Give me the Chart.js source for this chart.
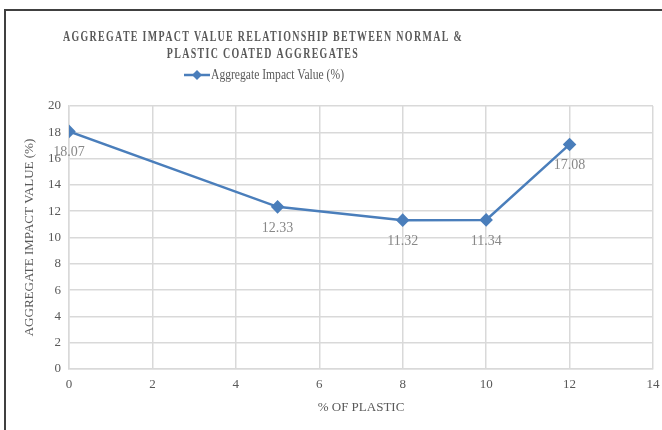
<!DOCTYPE html>
<html>
<head>
<meta charset="utf-8">
<script src="https://cdn.jsdelivr.net/npm/chart.js@4.4.1/dist/chart.umd.min.js"></script>
<style>
  html, body { margin: 0; padding: 0; background: #fff; }
  #wrap { width: 662px; height: 430px; position: relative; }
</style>
</head>
<body>
<div id="wrap"><canvas id="chart"></canvas></div>
<script>
const plasticPct = [0, 5, 8, 10, 12];
const impactValues = [18.07, 12.33, 11.32, 11.34, 17.08];
const chartTitle = ['AGGREGATE IMPACT VALUE RELATIONSHIP BETWEEN NORMAL &', 'PLASTIC COATED AGGREGATES'];
const seriesName = 'Aggregate Impact Value (%)';
const xTitle = '% OF PLASTIC';
const yTitle = 'AGGREGATE IMPACT VALUE (%)';

const lineColor = '#4a7ebb';
const textColor = '#595959';
const serif = "'Liberation Serif', 'DejaVu Serif', serif";

// squeeze text horizontally, the source font is narrower than anything installed
function narrowText(ctx, text, x, y, sx) {
    ctx.save();
    ctx.translate(x, y);
    ctx.scale(sx, 1);
    ctx.fillText(text, 0, 0);
    ctx.restore();
}

const framePlugin = {
    id: 'frame',
    beforeDraw(chart) {
        const ctx = chart.ctx;
        ctx.save();
        ctx.fillStyle = '#fff';
        ctx.fillRect(0, 0, chart.width, chart.height);
        ctx.strokeStyle = '#404040';
        ctx.lineWidth = 2;
        ctx.beginPath();
        ctx.moveTo(5, chart.height);
        ctx.lineTo(5, 10);
        ctx.lineTo(chart.width, 10);
        ctx.stroke();
        ctx.restore();
    },
    afterDraw(chart) {
        const ctx = chart.ctx;
        const cx = 263;
        ctx.save();
        ctx.fillStyle = textColor;
        ctx.textAlign = 'center';
        ctx.textBaseline = 'middle';
        ctx.font = 'bold 15px ' + serif;
        ctx.letterSpacing = '2px';
        const sx = 400 / ctx.measureText(chartTitle[0]).width;
        chartTitle.forEach((line, i) => narrowText(ctx, line, cx, 37 + i * 17, sx));
        ctx.letterSpacing = '0px';

        // legend entry
        const y = 75;
        ctx.strokeStyle = lineColor;
        ctx.lineWidth = 2.5;
        ctx.beginPath();
        ctx.moveTo(184, y);
        ctx.lineTo(210, y);
        ctx.stroke();
        ctx.fillStyle = lineColor;
        ctx.beginPath();
        ctx.moveTo(197, y - 5);
        ctx.lineTo(202, y);
        ctx.lineTo(197, y + 5);
        ctx.lineTo(192, y);
        ctx.closePath();
        ctx.fill();
        ctx.fillStyle = textColor;
        ctx.textAlign = 'left';
        ctx.font = '14px ' + serif;
        const lx = 133 / ctx.measureText(seriesName).width;
        narrowText(ctx, seriesName, 211, y, lx);
        ctx.restore();
    }
};

const labelPlugin = {
    id: 'pointLabels',
    afterDatasetsDraw(chart) {
        const ctx = chart.ctx;
        const meta = chart.getDatasetMeta(0);
        ctx.save();
        ctx.fillStyle = '#888888';
        ctx.font = '14px ' + serif;
        ctx.textAlign = 'center';
        ctx.textBaseline = 'middle';
        meta.data.forEach((pt, i) => {
            ctx.fillText(impactValues[i].toFixed(2), pt.x, pt.y + 21);
        });
        ctx.restore();
    }
};

new Chart(document.getElementById('chart'), {
    type: 'line',
    data: {
        datasets: [{
            label: seriesName,
            data: plasticPct.map((x, i) => ({ x: x, y: impactValues[i] })),
            borderColor: lineColor,
            backgroundColor: lineColor,
            borderWidth: 2.5,
            pointStyle: 'rectRot',
            pointRadius: 5,
            pointHoverRadius: 5,
            tension: 0,
            fill: false
        }]
    },
    options: {
        responsive: true,
        maintainAspectRatio: false,
        animation: false,
        layout: { padding: { top: 106, right: 9, left: 0, bottom: 0 } },
        plugins: {
            legend: { display: false },
            title: { display: false },
            tooltip: { enabled: false }
        },
        scales: {
            x: {
                type: 'linear',
                min: 0,
                max: 14,
                ticks: { stepSize: 2, color: textColor, padding: 8, font: { family: serif, size: 13 } },
                grid: { color: '#d9d9d9', lineWidth: 1.5, drawTicks: false },
                border: { color: '#d9d9d9', width: 1.5 },
                title: { display: true, text: xTitle, color: textColor, font: { family: serif, size: 13 }, padding: { bottom: 15 } },
                afterFit(scale) {
                    scale.height = 61;
                    scale.paddingRight = 0;
                    scale.paddingLeft = 0;
                }
            },
            y: {
                min: 0,
                max: 20,
                ticks: { stepSize: 2, color: textColor, padding: 8, font: { family: serif, size: 13 } },
                grid: { color: '#d9d9d9', lineWidth: 1.5, drawTicks: false },
                border: { color: '#d9d9d9', width: 1.5 },
                title: { display: true, text: yTitle, color: textColor, font: { family: serif, size: 13 }, padding: { top: 22 } },
                afterFit(scale) {
                    scale.width = 69;
                    scale.paddingTop = 0;
                    scale.paddingBottom = 0;
                }
            }
        }
    },
    plugins: [framePlugin, labelPlugin]
});
</script>
</body>
</html>
